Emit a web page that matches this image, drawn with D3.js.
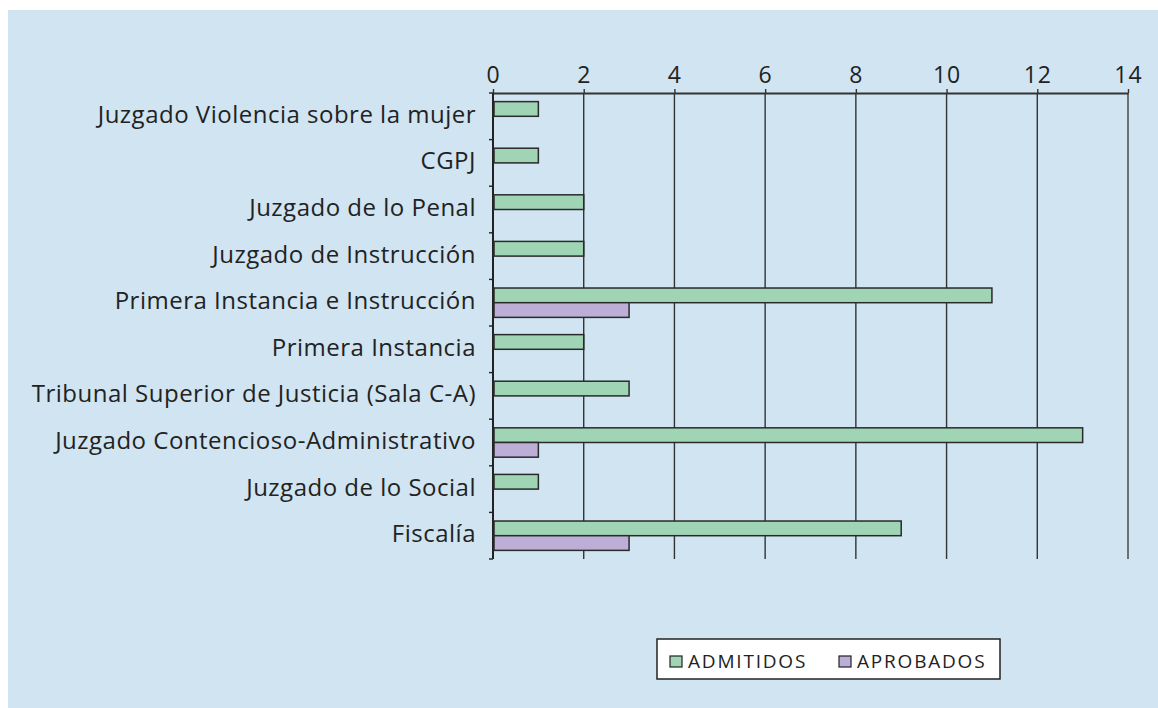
<!DOCTYPE html>
<html>
<head>
<meta charset="utf-8">
<script src="https://cdn.jsdelivr.net/npm/d3@7"></script>
<style>
  body { margin: 0; background: #fff; }
  text { font-family: "Open Sans", Lato, sans-serif; fill: #222; }
</style>
</head>
<body>
<div id="chart"></div>
<script>
var categories = [
  "Juzgado Violencia sobre la mujer",
  "CGPJ",
  "Juzgado de lo Penal",
  "Juzgado de Instrucción",
  "Primera Instancia e Instrucción",
  "Primera Instancia",
  "Tribunal Superior de Justicia (Sala C-A)",
  "Juzgado Contencioso-Administrativo",
  "Juzgado de lo Social",
  "Fiscalía"
];
var admitidos = [1, 1, 2, 2, 11, 2, 3, 13, 1, 9];
var aprobados = [0, 0, 0, 0, 3, 0, 0, 1, 0, 3];
var seriesNames = ["ADMITIDOS", "APROBADOS"];
var xTicks = [0, 2, 4, 6, 8, 10, 12, 14];

var width = 1158, height = 708;
var plotLeft = 493, plotRight = 1128, plotTop = 93, plotBottom = 559;
var colors = ["#9fd5b5", "#bcaed6"];

var svg = d3.select('#chart')
  .append('svg')
  .attr('width', width)
  .attr('height', height);

svg.append('rect')
  .attr('x', 8).attr('y', 10)
  .attr('width', width - 8).attr('height', height - 10)
  .attr('fill', '#d0e4f2');

var x = d3.scaleLinear().domain([0, 14]).range([plotLeft, plotRight]);
var y = d3.scaleBand().domain(categories).range([plotTop, plotBottom]).paddingInner(0.37).paddingOuter(0.185);
var y2 = d3.scaleBand().domain([0, 1]).range([0, y.bandwidth()]);

// vertical grid lines
svg.append('g')
  .selectAll('line')
  .data(xTicks.slice(1))
  .enter()
  .append('line')
  .attr('x1', d => x(d)).attr('x2', d => x(d))
  .attr('y1', plotTop).attr('y2', plotBottom)
  .attr('stroke', d => d === 14 ? '#6f6f6f' : '#333')
  .attr('stroke-width', d => d === 14 ? 2 : 1.4);

// top axis
var xAxis = svg.append('g')
  .attr('transform', `translate(0, ${plotTop})`)
  .call(d3.axisTop(x).tickValues(xTicks).tickSize(4).tickSizeOuter(0));
xAxis.select('.domain').attr('stroke', '#333').attr('stroke-width', 2);
xAxis.selectAll('.tick line').attr('stroke', '#333').attr('stroke-width', 1.4);
xAxis.selectAll('.tick text')
  .attr('font-size', 23)
  .attr('font-family', '"Open Sans", sans-serif')
  .attr('letter-spacing', 1)
  .attr('fill', '#222')
  .attr('dy', '-0.12em');

// left axis with ticks at category boundaries
var leftAxis = svg.append('g');
leftAxis.append('line')
  .attr('x1', plotLeft).attr('x2', plotLeft)
  .attr('y1', plotTop).attr('y2', plotBottom)
  .attr('stroke', '#222').attr('stroke-width', 2);
var step = (plotBottom - plotTop) / categories.length;
leftAxis.selectAll('.bt')
  .data(d3.range(categories.length + 1))
  .enter()
  .append('line')
  .attr('x1', plotLeft - 4).attr('x2', plotLeft)
  .attr('y1', d => plotTop + d * step).attr('y2', d => plotTop + d * step)
  .attr('stroke', '#222').attr('stroke-width', 1.4);

leftAxis.selectAll('.lab')
  .data(categories)
  .enter()
  .append('text')
  .attr('x', plotLeft - 17)
  .attr('y', d => y(d) + y.bandwidth() / 2 - 2)
  .attr('dy', '0.35em')
  .attr('text-anchor', 'end')
  .attr('font-size', 24)
  .attr('letter-spacing', 0.5)
  .text(d => d);

// bars
var series = [admitidos, aprobados];
series.forEach(function(vals, s) {
  svg.append('g')
    .selectAll('rect')
    .data(vals.map((v, i) => ({ cat: categories[i], v: v })).filter(d => d.v > 0))
    .enter()
    .append('rect')
    .attr('x', x(0) + 1)
    .attr('y', d => y(d.cat) + y2(s))
    .attr('width', d => x(d.v) - x(0) - 1)
    .attr('height', y2.bandwidth())
    .attr('fill', colors[s])
    .attr('stroke', '#2a2a2a')
    .attr('stroke-width', 1.5);
});

// legend
var legend = svg.append('g');
legend.append('rect')
  .attr('x', 657).attr('y', 639)
  .attr('width', 343).attr('height', 40)
  .attr('fill', '#fff')
  .attr('stroke', '#222').attr('stroke-width', 1.5);
var legX = [670, 839];
seriesNames.forEach(function(name, i) {
  legend.append('rect')
    .attr('x', legX[i]).attr('y', 656)
    .attr('width', 12).attr('height', 11)
    .attr('fill', colors[i])
    .attr('stroke', '#222').attr('stroke-width', 1.2);
  legend.append('text')
    .attr('x', legX[i] + 18).attr('y', 668)
    .attr('font-size', 19)
    .attr('letter-spacing', 1.8)
    .text(name);
});
</script>
</body>
</html>
